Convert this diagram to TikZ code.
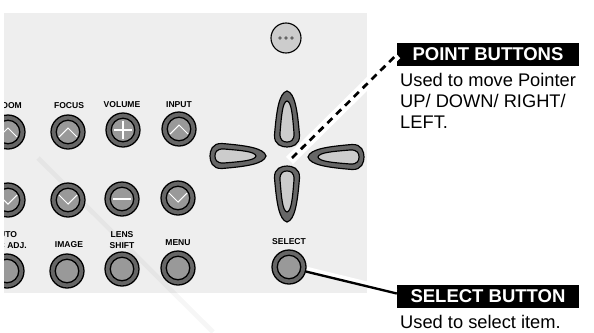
\documentclass[tikz,border=0pt]{standalone}
\usepackage{fontspec}
\setmainfont{Liberation Sans}
\usetikzlibrary{calc}
\definecolor{panelgray}{HTML}{EEEEEE}
\definecolor{ringgray}{HTML}{666666}
\definecolor{capgray}{HTML}{999999}
\definecolor{keygray}{HTML}{CCCCCC}
\tikzset{
    btnouter/.style={circle, draw=black, line width=1.1pt, fill=ringgray, minimum size=34*0.03cm, inner sep=0pt},
    btninner/.style={circle, draw=black, line width=1.1pt, fill=capgray, minimum size=23.5*0.03cm, inner sep=0pt},
    btnmark/.style={draw=white, line width=0.9pt},
    keylabel/.style={font=\bfseries\fontsize{7.3}{9.4}\selectfont, align=center, inner sep=0pt},
    titlebox/.style={fill=black, text=white, font=\bfseries\fontsize{15.8}{18}\selectfont, minimum width=182*0.03cm, minimum height=23*0.03cm, inner sep=0pt},
    bodytext/.style={font=\fontsize{15.6}{17.9}\selectfont, align=left, anchor=north west, inner sep=0pt}
}
\begin{document}
\begin{tikzpicture}[x=0.03cm, y=-0.03cm]

    % panel and frame of the picture
    \useasboundingbox (0,0) rectangle (594,332);
    \fill[panelgray] (4,13) rectangle (367,293);

    % faint diagonal mark
    \draw[black, opacity=0.035, line width=4pt] (38,158) -- (213,332);

    % 1. round buttons, clipped at the left edge of the panel
    \begin{scope}
        \clip (4,0) rectangle (594,332);
        \foreach \name/\x/\y in {zoomup/8/132, focusup/68/132, volup/123/130, inputup/179/129,
                                 zoomdn/8/200, focusdn/68/200, voldn/122/199, inputdn/178/198,
                                 auto/7/271, image/67/271, lens/122/269, menu/178/268, select/289/267} {
            \node[btnouter] (\name) at (\x,\y) {};
            \node[btninner] (\name in) at (\name) {};
        }

        % marks on the buttons
        \foreach \name in {zoomup, focusup, inputup}
            \draw[btnmark] ($(\name)+(-9,5)$) -- ($(\name)+(0,-4)$) -- ($(\name)+(9,5)$);
        \foreach \name in {zoomdn, focusdn, inputdn}
            \draw[btnmark] ($(\name)+(-9,-5)$) -- ($(\name)+(0,4)$) -- ($(\name)+(9,-5)$);
        \draw[btnmark] ($(volup)+(-9,0)$) -- ($(volup)+(9,0)$);
        \draw[btnmark] ($(volup)+(0,-9)$) -- ($(volup)+(0,9)$);
        \draw[btnmark] ($(voldn)+(-9,0)$) -- ($(voldn)+(9,0)$);

        % labels of the buttons
        \node[keylabel] (zoomlabel) at (9,106) {ZOOM};
        \node[keylabel] (focuslabel) at (69,106) {FOCUS};
        \node[keylabel] (vollabel) at (122,105) {VOLUME};
        \node[keylabel] (inputlabel) at (179,105) {INPUT};
        \node[keylabel, align=left, anchor=east] (autolabel) at (27,240) {AUTO\\PC ADJ.};
        \node[keylabel] (imagelabel) at (69,245) {IMAGE};
        \node[keylabel] (lenslabel) at (122,240) {LENS\\SHIFT};
        \node[keylabel] (menulabel) at (178,243) {MENU};
        \node[keylabel] (selectlabel) at (289,242) {SELECT};
    \end{scope}

    % 2. small round button with three dots
    \node[circle, draw=black, line width=0.95pt, fill=keygray, minimum size=30*0.03cm, inner sep=0pt] (dots) at (286,38) {};
    \foreach \dx in {-6,0,6}
        \fill[black!60] ($(dots)+(\dx,0)$) circle (1.9);

    % 3. the four pointer keys, drawn pointing up and turned
    \foreach \name/\x/\y/\rot in {keyup/287/119/0, keyright/336/157/90, keydown/287/194/180, keyleft/238/156/270} {
        \begin{scope}[shift={(\x,\y)}, rotate=\rot]
            \coordinate (\name) at (0,0);
            \draw[fill=ringgray, line width=1pt] (0,-28) .. controls (-8,-26) and (-10.5,-8) .. (-12.5,16)
                .. controls (-13,26) and (-5,28) .. (0,28) .. controls (5,28) and (13,26) .. (12.5,16)
                .. controls (10.5,-8) and (8,-26) .. (0,-28) -- cycle;
            \draw[fill=keygray, line width=1pt] (0,-18) .. controls (-4.5,-17) and (-5.5,-4) .. (-7,14)
                .. controls (-7.5,22) and (-3,23) .. (0,23) .. controls (3,23) and (7.5,22) .. (7,14)
                .. controls (5.5,-4) and (4.5,-17) .. (0,-18) -- cycle;
        \end{scope}
    }

    % 4. text on the right
    \node[titlebox] (pointtitle) at (488,54.5) {POINT BUTTONS};
    \node[bodytext] (pointtext) at (400,73) {Used to move Pointer\\UP/ DOWN/ RIGHT/\\LEFT.};
    \node[titlebox] (selecttitle) at (488,296.5) {SELECT BUTTON};
    \node[bodytext] (selecttext) at (400,315.5) {Used to select item.};

    % 5. leaders with their white edge
    \coordinate (pointend) at (292,158);
    \coordinate (selectend) at ($(selecttitle.west)+(0,-3)$);
    \draw[white, line width=8.5pt, shorten <=-3pt] (pointend) -- (pointtitle.west);
    \draw[black, line width=2.3pt, dash pattern=on 6pt off 4.6pt] (pointend) -- (pointtitle.west);
    \draw[white, line width=3pt] ($(select.-15)+(1,-3)$) -- ($(selectend)+(0,-3)$);
    \draw[black, line width=2pt] (select.-15) -- (selectend);

\end{tikzpicture}
\end{document}
